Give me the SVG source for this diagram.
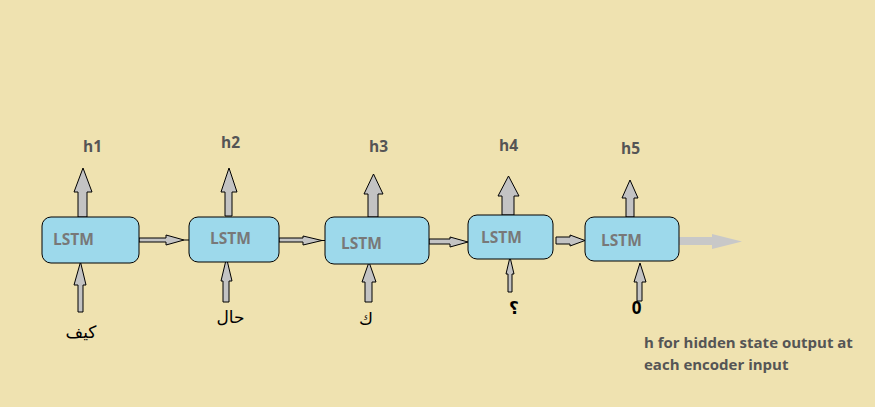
<svg xmlns="http://www.w3.org/2000/svg" width="875" height="407" viewBox="0 0 875 407">
<style>
.box{fill:#9DD9EB;stroke:#000;stroke-width:1}
.arr{fill:#C3C3C3;stroke:#000;stroke-width:1;stroke-linejoin:miter}
.lstm{font-family:"Open Sans",sans-serif;font-weight:bold;font-size:15.5px;fill:#787878}
.h{font-family:"Open Sans",sans-serif;font-weight:bold;font-size:15.5px;fill:#555}
.ar{font-family:"DejaVu Sans",sans-serif;font-size:17px;fill:#000;text-anchor:middle}
.note{font-family:"Open Sans",sans-serif;font-weight:bold;font-size:15px;fill:#555}
.zero{font-family:"Open Sans",sans-serif;font-weight:bold;font-size:17px;fill:#000;text-anchor:middle}
</style>
<rect width="875" height="407" fill="#EFE2B0"/>
<g id="connectors">
<polygon class="arr" points="139,238 166,238 166,235 184,240 166,245 166,242 139,242"/>
<line x1="184" y1="240" x2="189" y2="240" stroke="#000"/>
<polygon class="arr" points="279,238 303,238 303,236 322,240.5 303,245 303,242 279,242"/>
<line x1="322" y1="240.5" x2="325" y2="240.5" stroke="#000"/>
<polygon class="arr" points="429,239 450,239 450,237 468,242 450,247 450,244 429,244"/>
<polygon class="arr" points="556,237 570,237 570,235 585,240.5 570,246 570,244 556,244"/>
<polygon fill="#C8C8C8" points="679,237 712,237 712,234 742,241.5 712,249 712,245 679,245"/>
<polygon class="arr" points="78,217 78,192 74,192 83,168 92,192 87,192 87,217"/>
<polygon class="arr" points="225,216 225,192 221,192 229,168 237,192 232,192 232,216"/>
<polygon class="arr" points="368,217 368,194 364,194 373.5,174 383,194 378,194 378,217"/>
<polygon class="arr" points="502,215 502,196 498,196 508.5,176 519,196 514,196 514,215"/>
<polygon class="arr" points="626,217 626,198 622,198 630,180 638,198 634,198 634,217"/>
<polygon class="arr" points="78,312 78,285 74,285 80.5,262 86,285 83,285 83,312"/>
<polygon class="arr" points="223,302 223,281 221,281 226.5,258 232,281 229,281 229,302"/>
<polygon class="arr" points="365,302 365,282 362,282 369,262 376,282 372,282 372,302"/>
<polygon class="arr" points="508,292 508,274 506,274 510,257 514,274 512,274 512,292"/>
<polygon class="arr" points="637,301 637,282 634,282 640,263 646,282 642,282 642,301"/>
</g>
<g id="lstm1"><rect class="box" x="42" y="217" width="97" height="46" rx="9"/><text class="lstm" x="53" y="245">LSTM</text></g>
<g id="lstm2"><rect class="box" x="189" y="217" width="90" height="45" rx="9"/><text class="lstm" x="210" y="244">LSTM</text></g>
<g id="lstm3"><rect class="box" x="325" y="217" width="104" height="47" rx="9"/><text class="lstm" x="341" y="249">LSTM</text></g>
<g id="lstm4"><rect class="box" x="468" y="215" width="85" height="44" rx="9"/><text class="lstm" x="481" y="243">LSTM</text></g>
<g id="lstm5"><rect class="box" x="585" y="217" width="94" height="44" rx="9"/><text class="lstm" x="601" y="246">LSTM</text></g>
<g id="labels">
<text class="h" x="83" y="152">h1</text>
<text class="h" x="221" y="148">h2</text>
<text class="h" x="369" y="152">h3</text>
<text class="h" x="499" y="151">h4</text>
<text class="h" x="621" y="154">h5</text>
<text class="ar" x="81" y="338" font-size="18">كيف</text>
<text class="ar" x="230.5" y="323">حال</text>
<text class="ar" x="366" y="325">ك</text>
<text class="ar" x="514" y="314" font-size="16" font-weight="bold">؟</text>
<text class="zero" x="636.5" y="314">0</text>
</g>
<g id="note">
<text class="note" x="644" y="348">h for hidden state output at</text>
<text class="note" x="644" y="370">each encoder input</text>
</g>
</svg>
